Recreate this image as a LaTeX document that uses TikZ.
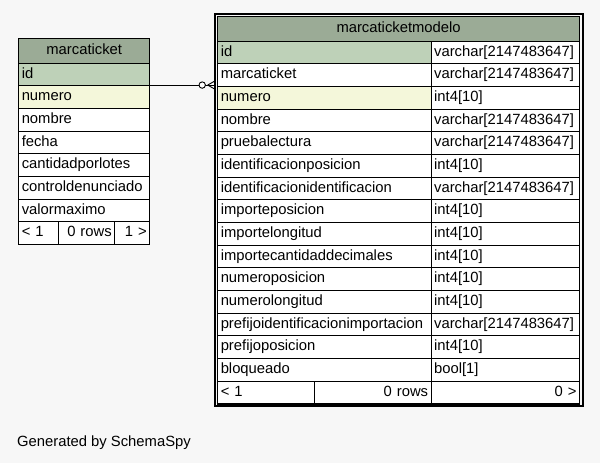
\documentclass[tikz,border=0pt]{standalone}
\usepackage{fontspec}
\setmainfont{Liberation Sans}
\usetikzlibrary{calc}
\definecolor{pagebg}{HTML}{F7F7F7}
\definecolor{hdrfill}{HTML}{9BAB96}
\definecolor{pkfill}{HTML}{BED1B8}
\definecolor{idxfill}{HTML}{F4F7DA}
\begin{document}
\begin{tikzpicture}[x=1pt,y=-1pt,
  font=\fontsize{14.8}{16}\selectfont,
  cellbase/.style={draw=black, line width=0.9pt, inner xsep=3pt, inner ysep=0pt,
    minimum height=22.67pt, anchor=north west, text height=10.5pt, text depth=3pt},
  hdr/.style={cellbase, fill=hdrfill, minimum height=24.2pt, align=center},
  lcell/.style={cellbase, text width=125pt, align=left},
  rname/.style={cellbase, text width=207.4pt, align=left},
  rtype/.style={cellbase, text width=142.3pt, align=left},
  foot/.style={cellbase, fill=white},
  conn/.style={draw=black, line width=0.9pt}]

% canvas
\useasboundingbox (0,0) rectangle (600,463);
\fill[pagebg] (0,0) rectangle (600,463);

% ---------------- table marcaticket ----------------
\node[hdr, minimum width=131pt] (lh) at (18.3,38.3) {marcaticket};
\foreach \t/\f [count=\i] in {id/pkfill, numero/idxfill, nombre/white, fecha/white,
    cantidadporlotes/white, controldenunciado/white, valormaximo/white}
  \node[lcell, fill=\f] (l\i) at (18.3,{62.5+22.67*(\i-1)}) {\t};
\node[foot, minimum width=39.4pt, text width=33.4pt, align=left] (lf1) at (18.3,221.2) {< 1};
\node[foot, minimum width=56.6pt, text width=50.6pt, align=right] (lf2) at (57.7,221.2) {0 rows};
\node[foot, minimum width=35pt, text width=29pt, align=right] (lf3) at (114.3,221.2) {1 >};

% ---------------- table marcaticketmodelo ----------------
\node[hdr, minimum width=361.7pt] (rh) at (217.3,16.3) {marcaticketmodelo};
\foreach \n/\ty/\f [count=\i] in {
    id/varchar[2147483647]/pkfill,
    marcaticket/varchar[2147483647]/white,
    numero/int4[10]/idxfill,
    nombre/varchar[2147483647]/white,
    pruebalectura/varchar[2147483647]/white,
    identificacionposicion/int4[10]/white,
    identificacionidentificacion/varchar[2147483647]/white,
    importeposicion/int4[10]/white,
    importelongitud/int4[10]/white,
    importecantidaddecimales/int4[10]/white,
    numeroposicion/int4[10]/white,
    numerolongitud/int4[10]/white,
    prefijoidentificacionimportacion/varchar[2147483647]/white,
    prefijoposicion/int4[10]/white,
    bloqueado/bool[1]/white}
{
  \node[rname, fill=\f] (rn\i) at (217.3,{40.5+22.67*(\i-1)}) {\n};
  \node[rtype, fill=white] (rt\i) at (430.7,{40.5+22.67*(\i-1)}) {\ty};
}
\node[foot, minimum width=96.2pt, text width=90.2pt, align=left] (rf1) at (217.3,380.5) {< 1};
\node[foot, minimum width=117.2pt, text width=111.2pt, align=right] (rf2) at (313.5,380.5) {0 rows};
\node[foot, minimum width=148.3pt, text width=142.3pt, align=right] (rf3) at (430.7,380.5) {0 >};

% double frame of the referencing table
\draw[line width=0.9pt] (rh.north west) rectangle (rf3.south east);
\draw[line width=1.8pt] ($(rh.north west)+(-2.6,-2.6)$) rectangle ($(rf3.south east)+(2.8,2.2)$);

% ---------------- foreign key marcaticketmodelo.marcaticket -> marcaticket.id ----------------
\coordinate (fkA) at ([yshift=1pt]l1.south east);
\coordinate (fkB) at ([xshift=-2.6pt]rn2.south west |- fkA);
\draw[conn] (fkA) -- (fkB);
\draw[conn] ($(fkB)+(-7,0)$) -- ($(fkB)+(0,-4)$);
\draw[conn] ($(fkB)+(-7,0)$) -- ($(fkB)+(0,4)$);
\draw[conn, fill=white] ($(fkB)+(-12.5,0)$) circle (3.2);

% footer
\node[anchor=base west, inner sep=0pt] (gen) at (17,446.5) {Generated by SchemaSpy};
\end{tikzpicture}
\end{document}
